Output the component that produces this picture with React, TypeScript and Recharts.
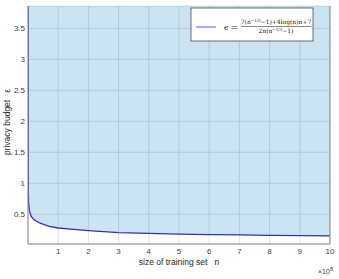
import { Area, AreaChart, CartesianGrid, XAxis, YAxis } from 'recharts';

// n in units of 1e8
const sizes = [0.003, 0.006, 0.01, 0.02, 0.05, 0.1, 0.2, 0.4, 0.7, 1, 1.5, 2, 3, 4, 5, 6, 7, 8, 9, 10];
const budget = [3.86, 1.5, 0.9, 0.68, 0.55, 0.47, 0.41, 0.355, 0.305, 0.278, 0.255, 0.235, 0.205, 0.19, 0.18, 0.172, 0.166, 0.16, 0.155, 0.15];

const xTicks = [1, 2, 3, 4, 5, 6, 7, 8, 9, 10];
const yTicks = [0.5, 1, 1.5, 2, 2.5, 3, 3.5];
const yDomain: [number, number] = [0.02, 3.86];

const data = sizes.map((n, i) => ({ n, eps: budget[i] }));

const tickStyle = { fontSize: 8, fill: '#404040', fontFamily: 'Liberation Sans, Arial, sans-serif' };
const gap = '\u00a0\u00a0\u00a0';

export default function App() {
  return (
    <div style={{ position: 'absolute', left: 0, top: 0, width: 339, height: 279, background: '#fff' }}>
      <AreaChart width={339} height={279} data={data} margin={{ top: 6, right: 0, bottom: 0, left: 0 }}>
        <CartesianGrid yAxisId="l" stroke="#e2e2e2" strokeWidth={1} />
        <XAxis
          dataKey="n"
          type="number"
          domain={[0, 10]}
          ticks={xTicks}
          allowDataOverflow
          height={35}
          tickLine={false}
          tickSize={0}
          tickMargin={4}
          stroke="#8a8a8a"
          tick={tickStyle}
        />
        <YAxis
          yAxisId="l"
          type="number"
          domain={yDomain}
          ticks={yTicks}
          allowDataOverflow
          width={28}
          tickLine={false}
          tickSize={0}
          tickMargin={3}
          stroke="#8a8a8a"
          tick={tickStyle}
        />
        <YAxis
          yAxisId="r"
          orientation="right"
          type="number"
          domain={yDomain}
          ticks={yTicks}
          width={9}
          tick={false}
          tickLine={false}
          stroke="#8a8a8a"
        />
        <Area
          yAxisId="l"
          type="linear"
          dataKey="eps"
          baseValue={yDomain[1]}
          stroke="#3030b8"
          strokeWidth={1.3}
          fill="#0072BD"
          fillOpacity={0.2}
          isAnimationActive={false}
        />
      </AreaChart>
      <svg
        width={339}
        height={279}
        style={{ position: 'absolute', left: 0, top: 0, pointerEvents: 'none' }}
        fontFamily="Liberation Sans, Arial, sans-serif"
      >
        <text x={10} y={122} fontSize={8.5} fill="#262626" textAnchor="middle" transform="rotate(-90 10 122)">
          {`privacy budget${gap}ε`}
        </text>
        <text x={179} y={265} fontSize={8.5} fill="#262626" textAnchor="middle">
          {`size of training set${gap}n`}
        </text>
        <text x={318} y={274} fontSize={7} fill="#404040">
          ×10<tspan dy={-3} fontSize={5.5}>8</tspan>
        </text>
        <g>
          <rect x={191} y={8} width={122} height={33} fill="#fff" stroke="#333" strokeWidth={0.7} />
          <line x1={196} y1={27} x2={216} y2={27} stroke="#6f6fff" strokeWidth={1.2} />
          <g fontFamily="DejaVu Serif, Liberation Serif, serif" fill="#111">
            <text x={224} y={30} fontSize={8}>ϵ =</text>
            <text x={276} y={23.5} fontSize={6} textAnchor="middle">
              7(n<tspan dy={-2} fontSize={4}>−1/3</tspan><tspan dy={2}>−1)+4log(n)n+7</tspan>
            </text>
            <line x1={241} y1={26.5} x2={311} y2={26.5} stroke="#111" strokeWidth={0.5} />
            <text x={276} y={33} fontSize={6} textAnchor="middle">
              2n(n<tspan dy={-2} fontSize={4}>−1/3</tspan><tspan dy={2}>−1)</tspan>
            </text>
          </g>
        </g>
      </svg>
    </div>
  );
}
